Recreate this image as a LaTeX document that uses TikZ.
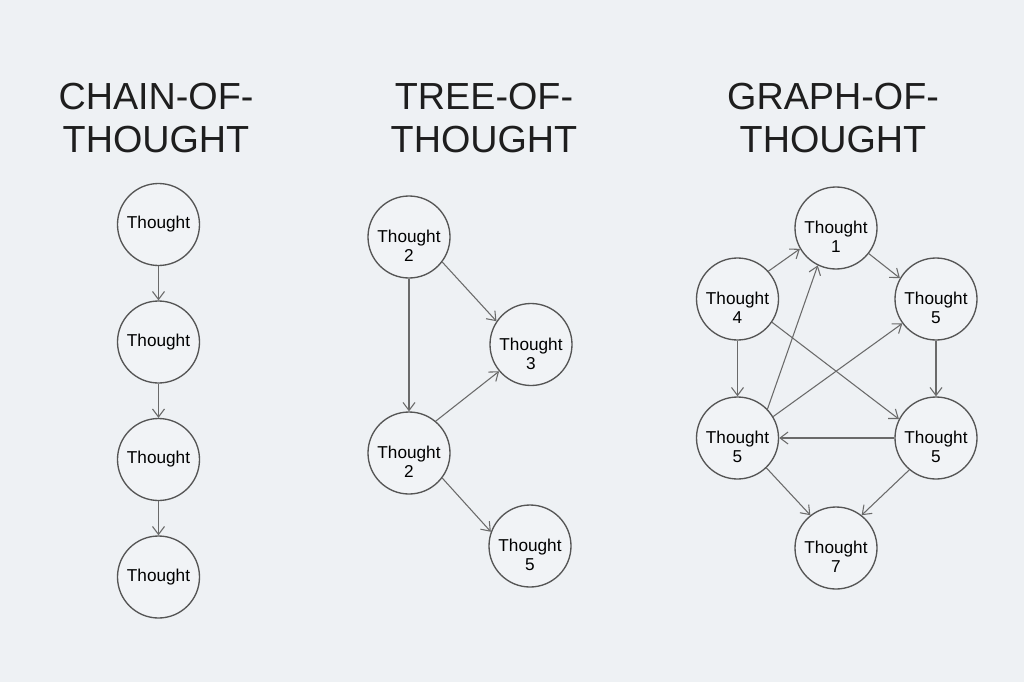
\documentclass[tikz,border=0pt]{standalone}
\usepackage{fontspec}
\setmainfont{Liberation Sans}
\usetikzlibrary{arrows.meta}
\definecolor{bgc}{HTML}{EEF1F4}
\definecolor{circfill}{HTML}{F1F3F6}
\definecolor{circline}{HTML}{555555}
\definecolor{arrline}{HTML}{6A6A6A}
\definecolor{titlec}{HTML}{1E1E1E}
\newcommand{\tnum}[1]{\raisebox{0pt}[\dimexpr\height+9pt\relax][\dimexpr\depth-8pt\relax]{\begin{tabular}{@{}c@{}}Thought\\#1\end{tabular}}}
\begin{document}
\begin{tikzpicture}[x=0.75pt,y=-0.75pt,
  thought/.style={circle,draw=circline,line width=1pt,fill=circfill,minimum size=61.5pt,inner sep=0pt,align=center,font=\fontsize{12.9}{14.5}\selectfont,text=black},
  title/.style={align=center,font=\fontsize{28.3}{32.5}\selectfont,text=titlec,inner sep=0pt},
  link/.style={draw=arrline,line width=0.8pt,-{Straight Barb[length=6pt,width=9pt]}}]
\fill[bgc] (0,0) rectangle (1024,682);
\useasboundingbox (0,0) rectangle (1024,682);
% titles
\node[title] (t1) at (156,118) {CHAIN-OF-\\THOUGHT};
\node[title] (t2) at (484,118) {TREE-OF-\\THOUGHT};
\node[title] (t3) at (833,118) {GRAPH-OF-\\THOUGHT};
% chain
\node[thought] (c1) at (158.5,224.5) {Thought};
\node[thought] (c2) at (158.5,342) {Thought};
\node[thought] (c3) at (158.5,459.5) {Thought};
\node[thought] (c4) at (158.5,577) {Thought};
\draw[link] (c1) -- (c2);
\draw[link] (c2) -- (c3);
\draw[link] (c3) -- (c4);
% tree
\node[thought] (ta) at (409,237) {\tnum{2}};
\node[thought] (tb) at (531,344.5) {\tnum{3}};
\node[thought] (tc) at (409,453) {\tnum{2}};
\node[thought] (td) at (530,546) {\tnum{5}};
\draw[link] (ta.-37) -- (tb.146);
\draw[link] (ta) -- (tc);
\draw[link] (tc.50) -- (tb.220);
\draw[link] (tc.-37) -- (td.160);
% graph
\node[thought] (g1) at (836,228) {\tnum{1}};
\node[thought] (g4) at (737.5,299) {\tnum{4}};
\node[thought] (g5a) at (936,299) {\tnum{5}};
\node[thought] (g5b) at (737.5,438) {\tnum{5}};
\node[thought] (g5c) at (936,438) {\tnum{5}};
\node[thought] (g7) at (836,548) {\tnum{7}};
\draw[link] (g4.42) -- (g1.210);
\draw[link] (g1.-38) -- (g5a.150);
\draw[link] (g4) -- (g5b);
\draw[link] (g5a) -- (g5c);
\draw[link] (g4.-34) -- (g5c.153);
\draw[link] (g5b.44) -- (g1.244);
\draw[link] (g5b.31) -- (g5a.216);
\draw[link] (g5c) -- (g5b);
\draw[link] (g5b.-46) -- (g7.128);
\draw[link] (g5c.230) -- (g7.52);
\end{tikzpicture}
\end{document}
